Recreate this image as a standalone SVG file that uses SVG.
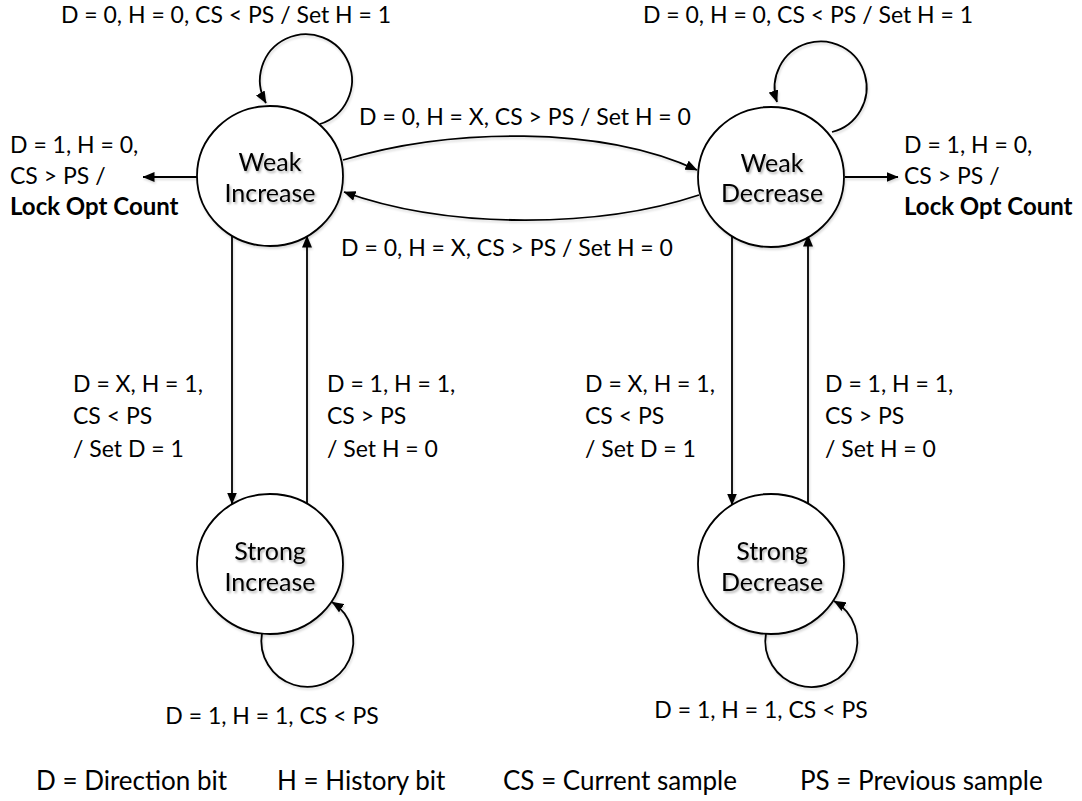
<svg xmlns="http://www.w3.org/2000/svg" width="1082" height="801" viewBox="0 0 1082 801">
  <defs>
    <marker id="arrow" viewBox="0 0 12 10" refX="11.5" refY="5" markerWidth="12" markerHeight="10" markerUnits="userSpaceOnUse" orient="auto">
      <path d="M0,0 L12,5 L0,10 z" fill="#000"/>
    </marker>
    <filter id="soft" x="-20%" y="-20%" width="140%" height="160%">
      <feDropShadow dx="1.5" dy="2" stdDeviation="1.2" flood-color="#000" flood-opacity="0.3"/>
    </filter>
    <filter id="faint" x="-10%" y="-10%" width="120%" height="120%">
      <feDropShadow dx="1" dy="2" stdDeviation="1.2" flood-color="#000" flood-opacity="0.15"/>
    </filter>
    <style>
      .state { fill: #fff; stroke: #000; stroke-width: 1.8; filter: url(#faint); }
      .edge { fill: none; stroke: #000; stroke-width: 1.8; marker-end: url(#arrow); }
      text { font-family: Lato, "Open Sans", sans-serif; fill: #000; }
      .lbl { font-size: 23px; }
      .name { font-size: 25px; text-anchor: middle; filter: url(#soft); }
      .bold { font-weight: bold; font-size: 24px; }
      .legend { font-size: 26px; }
    </style>
  </defs>

  <!-- transitions -->
  <g id="connectors" filter="url(#faint)">
    <!-- self loops -->
    <path class="edge" d="M320,124 A46,46 0 1,0 266,103"/>
    <path class="edge" d="M832,132 A46,46 0 1,0 777,102"/>
    <path class="edge" d="M262,633 A46,46 0 1,0 332,602"/>
    <path class="edge" d="M766,633 A46,46 0 1,0 834,601"/>
    <!-- weak increase <-> weak decrease -->
    <path class="edge" d="M343,160 C450,128 600,125 697,170"/>
    <path class="edge" d="M699,195 C600,228 450,230 344,192"/>
    <!-- lock outputs -->
    <path class="edge" d="M197,177 L143,177"/>
    <path class="edge" d="M845,177 L898,177"/>
    <!-- weak <-> strong -->
    <path class="edge" d="M232,236 L232,504"/>
    <path class="edge" d="M307,504 L307,236"/>
    <path class="edge" d="M732,235 L732,505"/>
    <path class="edge" d="M808,505 L808,235"/>
  </g>

  <g id="weak-increase">
    <ellipse class="state" cx="270" cy="176" rx="73" ry="70"/>
    <text class="name" x="270" y="171">Weak</text>
    <text class="name" x="270" y="202">Increase</text>
  </g>
  <g id="weak-decrease">
    <ellipse class="state" cx="771" cy="177" rx="73" ry="70"/>
    <text class="name" x="772" y="172">Weak</text>
    <text class="name" x="772" y="202">Decrease</text>
  </g>
  <g id="strong-increase">
    <ellipse class="state" cx="270" cy="564" rx="73" ry="70"/>
    <text class="name" x="270" y="560">Strong</text>
    <text class="name" x="270" y="591">Increase</text>
  </g>
  <g id="strong-decrease">
    <ellipse class="state" cx="771" cy="564" rx="73" ry="70"/>
    <text class="name" x="772" y="560">Strong</text>
    <text class="name" x="772" y="591">Decrease</text>
  </g>

  <g id="labels" class="lbl">
    <text x="226" y="23" text-anchor="middle">D = 0, H = 0, CS &lt; PS / Set H = 1</text>
    <text x="808" y="23" text-anchor="middle">D = 0, H = 0, CS &lt; PS / Set H = 1</text>
    <text x="525" y="125" text-anchor="middle">D = 0, H = X, CS &gt; PS / Set H = 0</text>
    <text x="507" y="256" text-anchor="middle">D = 0, H = X, CS &gt; PS / Set H = 0</text>

    <text x="10" y="153">D = 1, H = 0,</text>
    <text x="10" y="184">CS &gt; PS /</text>
    <text x="10" y="215" class="bold">Lock Opt Count</text>

    <text x="904" y="153">D = 1, H = 0,</text>
    <text x="904" y="184">CS &gt; PS /</text>
    <text x="904" y="215" class="bold">Lock Opt Count</text>

    <text x="73" y="392">D = X, H = 1,</text>
    <text x="73" y="424">CS &lt; PS</text>
    <text x="73" y="457">/ Set D = 1</text>

    <text x="327" y="392">D = 1, H = 1,</text>
    <text x="327" y="424">CS &gt; PS</text>
    <text x="327" y="457">/ Set H = 0</text>

    <text x="585" y="392">D = X, H = 1,</text>
    <text x="585" y="424">CS &lt; PS</text>
    <text x="585" y="457">/ Set D = 1</text>

    <text x="825" y="392">D = 1, H = 1,</text>
    <text x="825" y="424">CS &gt; PS</text>
    <text x="825" y="457">/ Set H = 0</text>

    <text x="272" y="724" text-anchor="middle">D = 1, H = 1, CS &lt; PS</text>
    <text x="761" y="718" text-anchor="middle">D = 1, H = 1, CS &lt; PS</text>
  </g>

  <g id="legend" class="legend">
    <text x="36" y="790">D = Direction bit</text>
    <text x="277" y="790">H = History bit</text>
    <text x="503" y="790">CS = Current sample</text>
    <text x="800" y="790">PS = Previous sample</text>
  </g>
</svg>
